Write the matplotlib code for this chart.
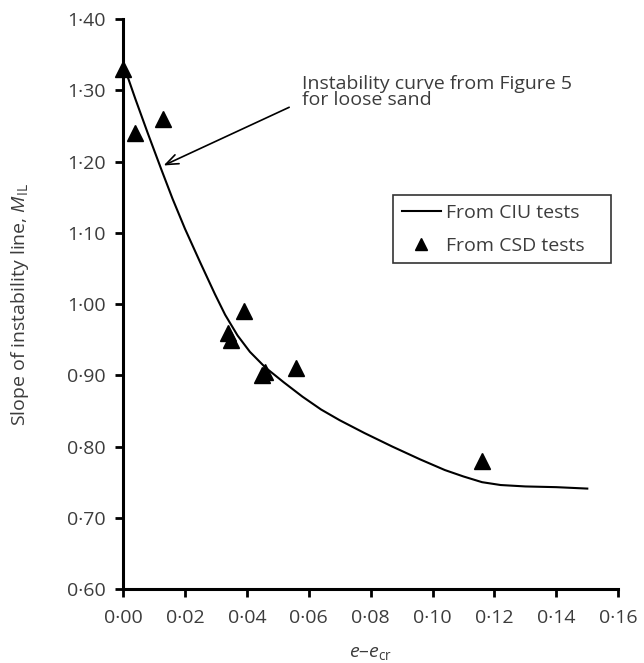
import matplotlib
matplotlib.use("Agg")
import matplotlib.pyplot as plt
from matplotlib.ticker import FixedLocator

plt.rcParams['font.family'] = ['Open Sans', 'DejaVu Sans']
plt.rcParams['mathtext.fontset'] = 'custom'
plt.rcParams['mathtext.it'] = 'Open Sans:italic'
plt.rcParams['mathtext.rm'] = 'Open Sans'

# CIU curve (instability curve from Figure 5)
curve_x = [0.000, 0.004, 0.008, 0.0123, 0.016, 0.020, 0.025, 0.0297, 0.033,
           0.037, 0.041, 0.046, 0.052, 0.058, 0.064, 0.070, 0.078, 0.087,
           0.096, 0.104, 0.110, 0.116, 0.122, 0.130, 0.140, 0.150]
curve_y = [1.338, 1.288, 1.240, 1.190, 1.148, 1.106, 1.058, 1.014, 0.985,
           0.956, 0.933, 0.911, 0.890, 0.870, 0.852, 0.837, 0.819, 0.800,
           0.782, 0.767, 0.758, 0.750, 0.746, 0.744, 0.743, 0.741]

# CSD test points
csd_x = [0.000, 0.004, 0.013, 0.034, 0.035, 0.039, 0.045, 0.046, 0.056, 0.116]
csd_y = [1.33, 1.24, 1.26, 0.96, 0.95, 0.99, 0.90, 0.905, 0.91, 0.78]

xticks = [0.00, 0.02, 0.04, 0.06, 0.08, 0.10, 0.12, 0.14, 0.16]
yticks = [0.60, 0.70, 0.80, 0.90, 1.00, 1.10, 1.20, 1.30, 1.40]

txt = '#3c3c3c'
fs = 14
fig = plt.figure(figsize=(6.44, 6.63), dpi=100)
ax = fig.add_axes([0.191, 0.1116, 0.769, 0.8594])

ax.plot(curve_x, curve_y, color='black', lw=1.5, label='From CIU tests',
        solid_joinstyle='round')
ax.plot(csd_x, csd_y, linestyle='none', marker='^', color='black', ms=11,
        label='From CSD tests', clip_on=False, zorder=3)

ax.set_xlim(0, 0.16)
ax.set_ylim(0.60, 1.40)
ax.xaxis.set_major_locator(FixedLocator(xticks))
ax.yaxis.set_major_locator(FixedLocator(yticks))
ax.set_xticklabels([f'{v:.2f}'.replace('.', '\u00b7') for v in xticks])
ax.set_yticklabels([f'{v:.2f}'.replace('.', '\u00b7') for v in yticks])

for s in ['top', 'right']:
    ax.spines[s].set_visible(False)
for s in ['left', 'bottom']:
    ax.spines[s].set_linewidth(2.2)
ax.tick_params(axis='both', direction='out', length=5.5, width=2,
               labelsize=fs, labelcolor=txt)
ax.tick_params(axis='x', pad=9)
ax.tick_params(axis='y', pad=7)

ax.set_xlabel(r'$e$–$e_{\rm cr}$', fontsize=fs, color=txt, labelpad=12)
ax.set_ylabel(r'Slope of instability line, $M_{\rm IL}$', fontsize=fs,
              color=txt)
ax.yaxis.set_label_coords(-0.185, 0.5)

ax.annotate('', xy=(0.0123, 1.193), xytext=(0.0545, 1.278),
            arrowprops=dict(arrowstyle='->,head_length=0.9,head_width=0.35',
                            color='black', lw=1.2))
ax.text(0.0578, 1.322, 'Instability curve from Figure 5\nfor loose sand',
        fontsize=fs, color=txt, va='top', ha='left', linespacing=0.88)

leg = ax.legend(loc='upper left', bbox_to_anchor=(0.545, 0.308, 0.44, 0.383),
                mode='expand', frameon=True, fancybox=False, fontsize=fs,
                handlelength=2.0, handletextpad=0.3, borderpad=0.45,
                labelspacing=0.75, borderaxespad=0, markerscale=0.8)
leg.get_frame().set_edgecolor('black')
leg.get_frame().set_linewidth(1.2)
for t in leg.get_texts():
    t.set_color(txt)

fig.savefig('out.png', dpi=100)
